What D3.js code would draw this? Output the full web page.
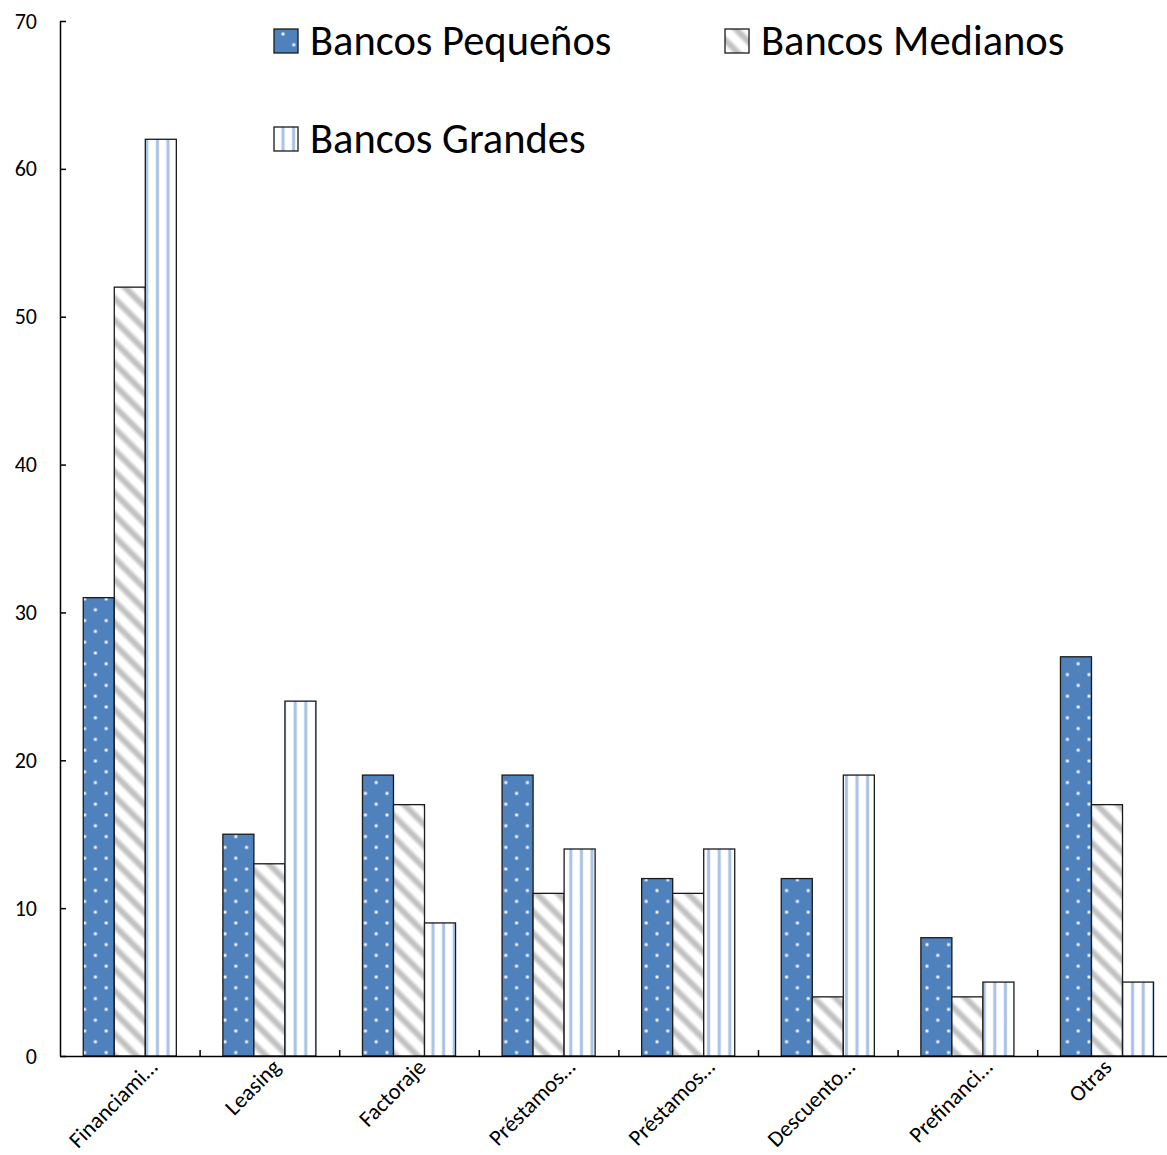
<!DOCTYPE html>
<html>
<head>
<meta charset="utf-8">
<script src="https://cdn.jsdelivr.net/npm/d3@7"></script>
<style>
  body { margin: 0; background: #fff; }
  svg text { font-family: Carlito, Calibri, Lato, sans-serif; fill: #000; }
</style>
</head>
<body>
<svg id="chart" width="1167" height="1155"></svg>
<script>
// Category labels (truncated as shown on the axis)
const categories = ["Financiami…", "Leasing", "Factoraje", "Préstamos…", "Préstamos…", "Descuento…", "Prefinanci…", "Otras"];
const seriesNames = ["Bancos Pequeños", "Bancos Medianos", "Bancos Grandes"];
const pequenos = [31, 15, 19, 19, 12, 12, 8, 27];
const medianos = [52, 13, 17, 11, 11, 4, 4, 17];
const grandes  = [62, 24, 9, 14, 14, 19, 5, 5];
const yTicks = [0, 10, 20, 30, 40, 50, 60, 70];

const series = [pequenos, medianos, grandes];
const fills = ["url(#dots)", "url(#diag)", "url(#vstripes)"];

const svg = d3.select("#chart");
const defs = svg.append("defs");

// Blue fill with a sparse grid of white dots
const pDots = defs.append("pattern").attr("id", "dots")
  .attr("patternUnits", "userSpaceOnUse").attr("width", 21.6).attr("height", 21.6)
  .attr("x", 7).attr("y", 3);
pDots.append("rect").attr("width", 21.6).attr("height", 21.6).attr("fill", "#4f81bd");
[[2, 2], [12.8, 12.8]].forEach(([cx, cy]) => {
  pDots.append("circle").attr("cx", cx).attr("cy", cy).attr("r", 2).attr("fill", "#a9c1e3");
  pDots.append("circle").attr("cx", cx).attr("cy", cy).attr("r", 1.1).attr("fill", "#ffffff");
});

// Soft grey downward diagonal stripes on white
const g1 = defs.append("linearGradient").attr("id", "diagGrad").attr("x1", 0).attr("x2", 1).attr("y1", 0).attr("y2", 0);
[[0, "#ffffff"], [0.18, "#ffffff"], [0.42, "#c2c2c2"], [0.58, "#c2c2c2"], [0.82, "#ffffff"], [1, "#ffffff"]]
  .forEach(([o, c]) => g1.append("stop").attr("offset", o).attr("stop-color", c));
const pDiag = defs.append("pattern").attr("id", "diag")
  .attr("patternUnits", "userSpaceOnUse").attr("width", 15.3).attr("height", 20)
  .attr("patternTransform", "rotate(-45)");
pDiag.append("rect").attr("width", 15.3).attr("height", 20).attr("fill", "url(#diagGrad)");

// Thin light-blue vertical stripes on white
const g2 = defs.append("linearGradient").attr("id", "vGrad").attr("x1", 0).attr("x2", 1).attr("y1", 0).attr("y2", 0);
[[0, "#ffffff"], [0.3, "#ffffff"], [0.42, "#a7c0e4"], [0.58, "#a7c0e4"], [0.7, "#ffffff"], [1, "#ffffff"]]
  .forEach(([o, c]) => g2.append("stop").attr("offset", o).attr("stop-color", c));
const pV = defs.append("pattern").attr("id", "vstripes")
  .attr("patternUnits", "userSpaceOnUse").attr("width", 10.6).attr("height", 20).attr("x", 3.7);
pV.append("rect").attr("width", 10.6).attr("height", 20).attr("fill", "url(#vGrad)");

// Plot area and scales
const plotLeft = 60, plotRight = 1176.8, plotBottom = 1056, plotTop = 21;
const x = d3.scaleBand().domain(d3.range(categories.length)).range([plotLeft, plotRight]).paddingInner(0).paddingOuter(0);
const xs = d3.scaleBand().domain(d3.range(series.length)).range([0, x.bandwidth()]).paddingInner(0).paddingOuter(0.75);
const y = d3.scaleLinear().domain([0, 70]).range([plotBottom, plotTop]);
const xEdge = d3.scaleLinear().domain([0, categories.length]).range([plotLeft, plotRight]);

// Bars
series.forEach((vals, s) => {
  svg.append("g").selectAll("rect").data(vals).join("rect")
    .attr("x", (d, i) => x(i) + xs(s))
    .attr("y", d => y(d))
    .attr("width", xs.bandwidth())
    .attr("height", d => y(0) - y(d))
    .attr("fill", fills[s])
    .attr("stroke", "#1a1a1a")
    .attr("stroke-width", 1.3);
});

// Y axis, ticks pointing into the plot
const yAxis = svg.append("g").attr("transform", `translate(${plotLeft},0)`)
  .call(d3.axisLeft(y).tickValues(yTicks).tickSizeInner(-6).tickSizeOuter(0).tickPadding(23));
yAxis.selectAll("text").style("font-size", "22px").attr("font-family", null);
yAxis.selectAll("line, path").attr("stroke", "#000").attr("stroke-width", 1.5);

// X axis line with category boundary ticks pointing up
const xAxis = svg.append("g").attr("transform", `translate(0,${plotBottom})`)
  .call(d3.axisBottom(xEdge).tickValues(d3.range(1, categories.length + 1)).tickSizeInner(-6).tickSizeOuter(0).tickFormat(""));
xAxis.selectAll("line, path").attr("stroke", "#000").attr("stroke-width", 1.5);

// Rotated category labels: each label's midpoint sits a little left of its
// category centre, with the top of the rotated box just below the axis
const labelSize = 22.5;
const xLab = svg.append("g").attr("transform", `translate(0,${plotBottom})`)
  .call(d3.axisBottom(x).tickSize(0).tickFormat(i => categories[i]));
xLab.select(".domain").remove();
xLab.selectAll("text")
  .style("font-size", labelSize + "px").attr("font-family", null)
  .attr("text-anchor", "middle")
  .attr("x", 0).attr("y", 0).attr("dy", "0.35em")
  .attr("transform", function () {
    const len = this.getComputedTextLength();
    const k = Math.SQRT1_2;
    const ax = -17;
    const ay = -1 + k * (len + labelSize) / 2;
    return `translate(${ax},${ay}) rotate(-45)`;
  });

// Legend
const legendItems = [
  { name: seriesNames[0], fill: fills[0], x: 274, y: 29 },
  { name: seriesNames[1], fill: fills[1], x: 725, y: 29 },
  { name: seriesNames[2], fill: fills[2], x: 274, y: 127 }
];
const leg = svg.append("g").selectAll("g").data(legendItems).join("g")
  .attr("transform", d => `translate(${d.x},${d.y})`);
leg.append("rect").attr("width", 24).attr("height", 24)
  .attr("fill", d => d.fill).attr("stroke", "#1a1a1a").attr("stroke-width", 1.3);
leg.append("text").attr("x", 36).attr("y", 26).style("font-size", "42.5px").text(d => d.name);
</script>
</body>
</html>
